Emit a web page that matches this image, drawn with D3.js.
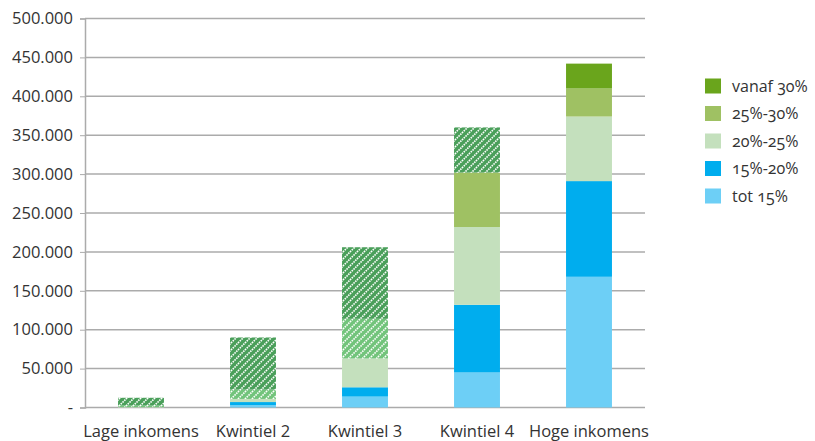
<!DOCTYPE html>
<html>
<head>
<meta charset="utf-8">
<script src="https://cdn.jsdelivr.net/npm/d3@7"></script>
<style>
  body { margin: 0; background: #fff; }
  #chart { width: 815px; height: 441px; }
  text { font-family: "Open Sans", sans-serif; fill: #333; }
  .legend text { font-variant-numeric: oldstyle-nums; }
</style>
</head>
<body>
<div id="chart"></div>
<script>
// data
var categories = ["Lage inkomens", "Kwintiel 2", "Kwintiel 3", "Kwintiel 4", "Hoge inkomens"];
var seriesNames = ["tot 15%", "15%-20%", "20%-25%", "25%-30%", "vanaf 30%"];
var tot15   = [0, 3000, 14000, 45000, 168000];
var p15_20  = [0, 4000, 12000, 87000, 123000];
var p20_25  = [500, 4000, 37000, 100000, 83000];
var p25_30  = [2000, 12000, 51000, 70000, 36000];
var vanaf30 = [10000, 67000, 92000, 58000, 32000];
// which segments are drawn hatched
var hatch25_30  = [true, true, true, false, false];
var hatchVanaf30 = [true, true, true, true, false];
var yTicks = [0, 50000, 100000, 150000, 200000, 250000, 300000, 350000, 400000, 450000, 500000];

var colors = ["#6dcff6", "#00adee", "#c4e0bd", "#9fc163", "#6aa51c"];
var hatchColors = { 3: "#72c47b", 4: "#4a9f5a" };

var width = 815, height = 441;
var plotLeft = 85, plotRight = 645, plotTop = 18.5, plotBottom = 407.5;

var svg = d3.select("#chart").append("svg")
    .attr("width", width)
    .attr("height", height);

var defs = svg.append("defs");
// diagonal white stripes on a green base
[3, 4].forEach(function(k) {
  var p = defs.append("pattern")
      .attr("id", "hatch" + k)
      .attr("patternUnits", "userSpaceOnUse")
      .attr("width", 7).attr("height", 7);
  p.append("rect").attr("width", 7).attr("height", 7).attr("fill", hatchColors[k]);
  p.append("path")
      .attr("d", "M-1,1 l2,-2 M0,7 l7,-7 M6,8 l2,-2")
      .attr("stroke", "#fff")
      .attr("stroke-width", 1.6)
      .attr("stroke-dasharray", "1.5,1");
});

var x = d3.scaleBand().domain(categories).range([plotLeft, plotRight]).paddingInner(0.59).paddingOuter(0.295);
var y = d3.scaleLinear().domain([0, 500000]).range([plotBottom, plotTop]);

var fmt = function(d) { return d === 0 ? "-" : d3.format(",")(d).replace(/,/g, "."); };

// gridlines
svg.append("g")
  .selectAll("line")
  .data(yTicks)
  .enter().append("line")
    .attr("x1", plotLeft).attr("x2", plotRight)
    .attr("y1", function(d) { return y(d); })
    .attr("y2", function(d) { return y(d); })
    .attr("stroke", "#ababab")
    .attr("stroke-width", 1.5);

var yAxis = svg.append("g")
    .attr("transform", "translate(" + plotLeft + ",0)")
    .call(d3.axisLeft(y).tickValues(yTicks).tickFormat(fmt).tickSize(5).tickPadding(7));
yAxis.select(".domain").attr("stroke", "#ababab").attr("stroke-width", 1.5);
yAxis.selectAll(".tick line").attr("stroke", "#ababab");
yAxis.selectAll("text").style("font-size", "16.5px").attr("fill", "#333");

// stacked bars
var table = categories.map(function(c, i) {
  return { cat: c, s0: tot15[i], s1: p15_20[i], s2: p20_25[i], s3: p25_30[i], s4: vanaf30[i] };
});
var stack = d3.stack().keys(["s0", "s1", "s2", "s3", "s4"])(table);

svg.append("g")
  .selectAll("g")
  .data(stack)
  .enter().append("g")
  .selectAll("rect")
  .data(function(d, k) { return d.map(function(v, i) { return { v: v, k: k, i: i }; }); })
  .enter().append("rect")
    .attr("x", function(d) { return x(d.v.data.cat); })
    .attr("width", x.bandwidth())
    .attr("y", function(d) { return y(d.v[1]); })
    .attr("height", function(d) { return y(d.v[0]) - y(d.v[1]); })
    .attr("fill", function(d) {
      if (d.k === 3 && hatch25_30[d.i]) return "url(#hatch3)";
      if (d.k === 4 && hatchVanaf30[d.i]) return "url(#hatch4)";
      return colors[d.k];
    });

// category labels
svg.append("g")
  .selectAll("text")
  .data(categories)
  .enter().append("text")
    .attr("x", function(d) { return x(d) + x.bandwidth() / 2; })
    .attr("y", 437)
    .attr("text-anchor", "middle")
    .style("font-size", "16.5px")
    .text(function(d) { return d; });

// legend, top item first
var legend = svg.append("g").attr("class", "legend")
  .selectAll("g")
  .data(d3.range(seriesNames.length).reverse())
  .enter().append("g")
    .attr("transform", function(d, j) { return "translate(705," + (86 + j * 27.5) + ")"; });
legend.append("rect")
    .attr("y", -7.5).attr("width", 16).attr("height", 15)
    .attr("fill", function(d) { return colors[d]; });
legend.append("text")
    .attr("x", 27).attr("dy", "0.35em")
    .style("font-size", "16px")
    .text(function(d) { return seriesNames[d]; });
</script>
</body>
</html>
